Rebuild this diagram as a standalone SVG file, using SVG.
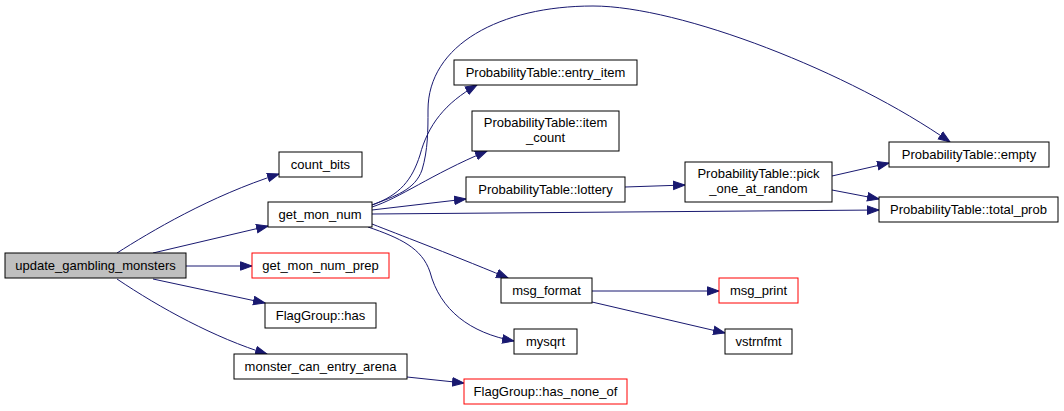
<svg xmlns="http://www.w3.org/2000/svg" width="1064" height="411" viewBox="0 0 1064 411">
<style>
.n rect{fill:#fff;stroke:#000;stroke-width:1}
.n.r rect{stroke:#f00}
.n.g rect{fill:#bfbfbf}
text{font-family:"Liberation Sans",Arial,sans-serif;font-size:13px;fill:#000;text-anchor:middle}
#edges path{fill:none;stroke:#191970;stroke-width:1;marker-end:url(#ah)}
</style>
<defs>
<marker id="ah" markerUnits="userSpaceOnUse" markerWidth="14" markerHeight="11" refX="12" refY="5" orient="auto">
<path d="M0.5,0.8 L12,5 L0.5,9.2 z" fill="#191970" stroke="#191970" stroke-width="1"/>
</marker>
</defs>
<rect width="1064" height="411" fill="#fff"/>
<g id="edges">
<path d="M117,253 C150,232 210,196 279,174"/>
<path d="M153,253 L268,226"/>
<path d="M186,266 L252,266"/>
<path d="M153,279 L265,303"/>
<path d="M117,279 C160,308 215,338 267,354"/>
<path d="M407,377 L464,383"/>
<path d="M372,205 C400,195 412,180 420,155 C428,125 445,103 477,85"/>
<path d="M372,207 C400,198 430,175 487,151"/>
<path d="M372,210 L466,199"/>
<path d="M372,214 L879,210"/>
<path d="M372,205 C395,196 415,190 422,170 C428,150 428,130 428,110 C428,45 500,6 593,6 C680,6 850,72 950,142"/>
<path d="M372,224 C400,235 440,250 508,278"/>
<path d="M368,227 C400,238 422,248 430,272 C440,310 470,333 514,341"/>
<path d="M625,187 L685,185"/>
<path d="M832,176 L889,163"/>
<path d="M832,190 L879,199"/>
<path d="M592,291 L719,291"/>
<path d="M592,302 L725,333"/>
</g>
<g id="update_gambling_monsters" class="n g"><rect x="5" y="253" width="181" height="25"/><text x="95.5" y="270">update_gambling_monsters</text></g>
<g id="count_bits" class="n"><rect x="279" y="152" width="83" height="25"/><text x="320.5" y="169">count_bits</text></g>
<g id="get_mon_num" class="n"><rect x="268" y="202" width="104" height="25"/><text x="320" y="219">get_mon_num</text></g>
<g id="get_mon_num_prep" class="n r"><rect x="252" y="253" width="137" height="25"/><text x="320.5" y="270">get_mon_num_prep</text></g>
<g id="FlagGroup_has" class="n"><rect x="265" y="303" width="111" height="25"/><text x="320.5" y="320">FlagGroup::has</text></g>
<g id="monster_can_entry_arena" class="n"><rect x="234" y="354" width="173" height="25"/><text x="320.5" y="371">monster_can_entry_arena</text></g>
<g id="entry_item" class="n"><rect x="454" y="60" width="183" height="25"/><text x="545.5" y="77">ProbabilityTable::entry_item</text></g>
<g id="item_count" class="n"><rect x="472" y="111" width="147" height="40"/><text x="545.5" y="127">ProbabilityTable::item</text><text x="545.5" y="142">_count</text></g>
<g id="lottery" class="n"><rect x="466" y="177" width="159" height="25"/><text x="545.5" y="194">ProbabilityTable::lottery</text></g>
<g id="pick_one_at_random" class="n"><rect x="685" y="162" width="147" height="40"/><text x="758.5" y="178">ProbabilityTable::pick</text><text x="758.5" y="193">_one_at_random</text></g>
<g id="empty" class="n"><rect x="889" y="142" width="160" height="25"/><text x="969" y="159">ProbabilityTable::empty</text></g>
<g id="total_prob" class="n"><rect x="879" y="197" width="179" height="25"/><text x="968.5" y="214">ProbabilityTable::total_prob</text></g>
<g id="msg_format" class="n"><rect x="501" y="278" width="91" height="25"/><text x="546.5" y="295">msg_format</text></g>
<g id="msg_print" class="n r"><rect x="719" y="278" width="79" height="25"/><text x="758.5" y="295">msg_print</text></g>
<g id="mysqrt" class="n"><rect x="514" y="329" width="63" height="25"/><text x="545.5" y="346">mysqrt</text></g>
<g id="vstrnfmt" class="n"><rect x="725" y="329" width="67" height="25"/><text x="758.5" y="346">vstrnfmt</text></g>
<g id="has_none_of" class="n r"><rect x="464" y="379" width="163" height="25"/><text x="545.5" y="396">FlagGroup::has_none_of</text></g>
</svg>
